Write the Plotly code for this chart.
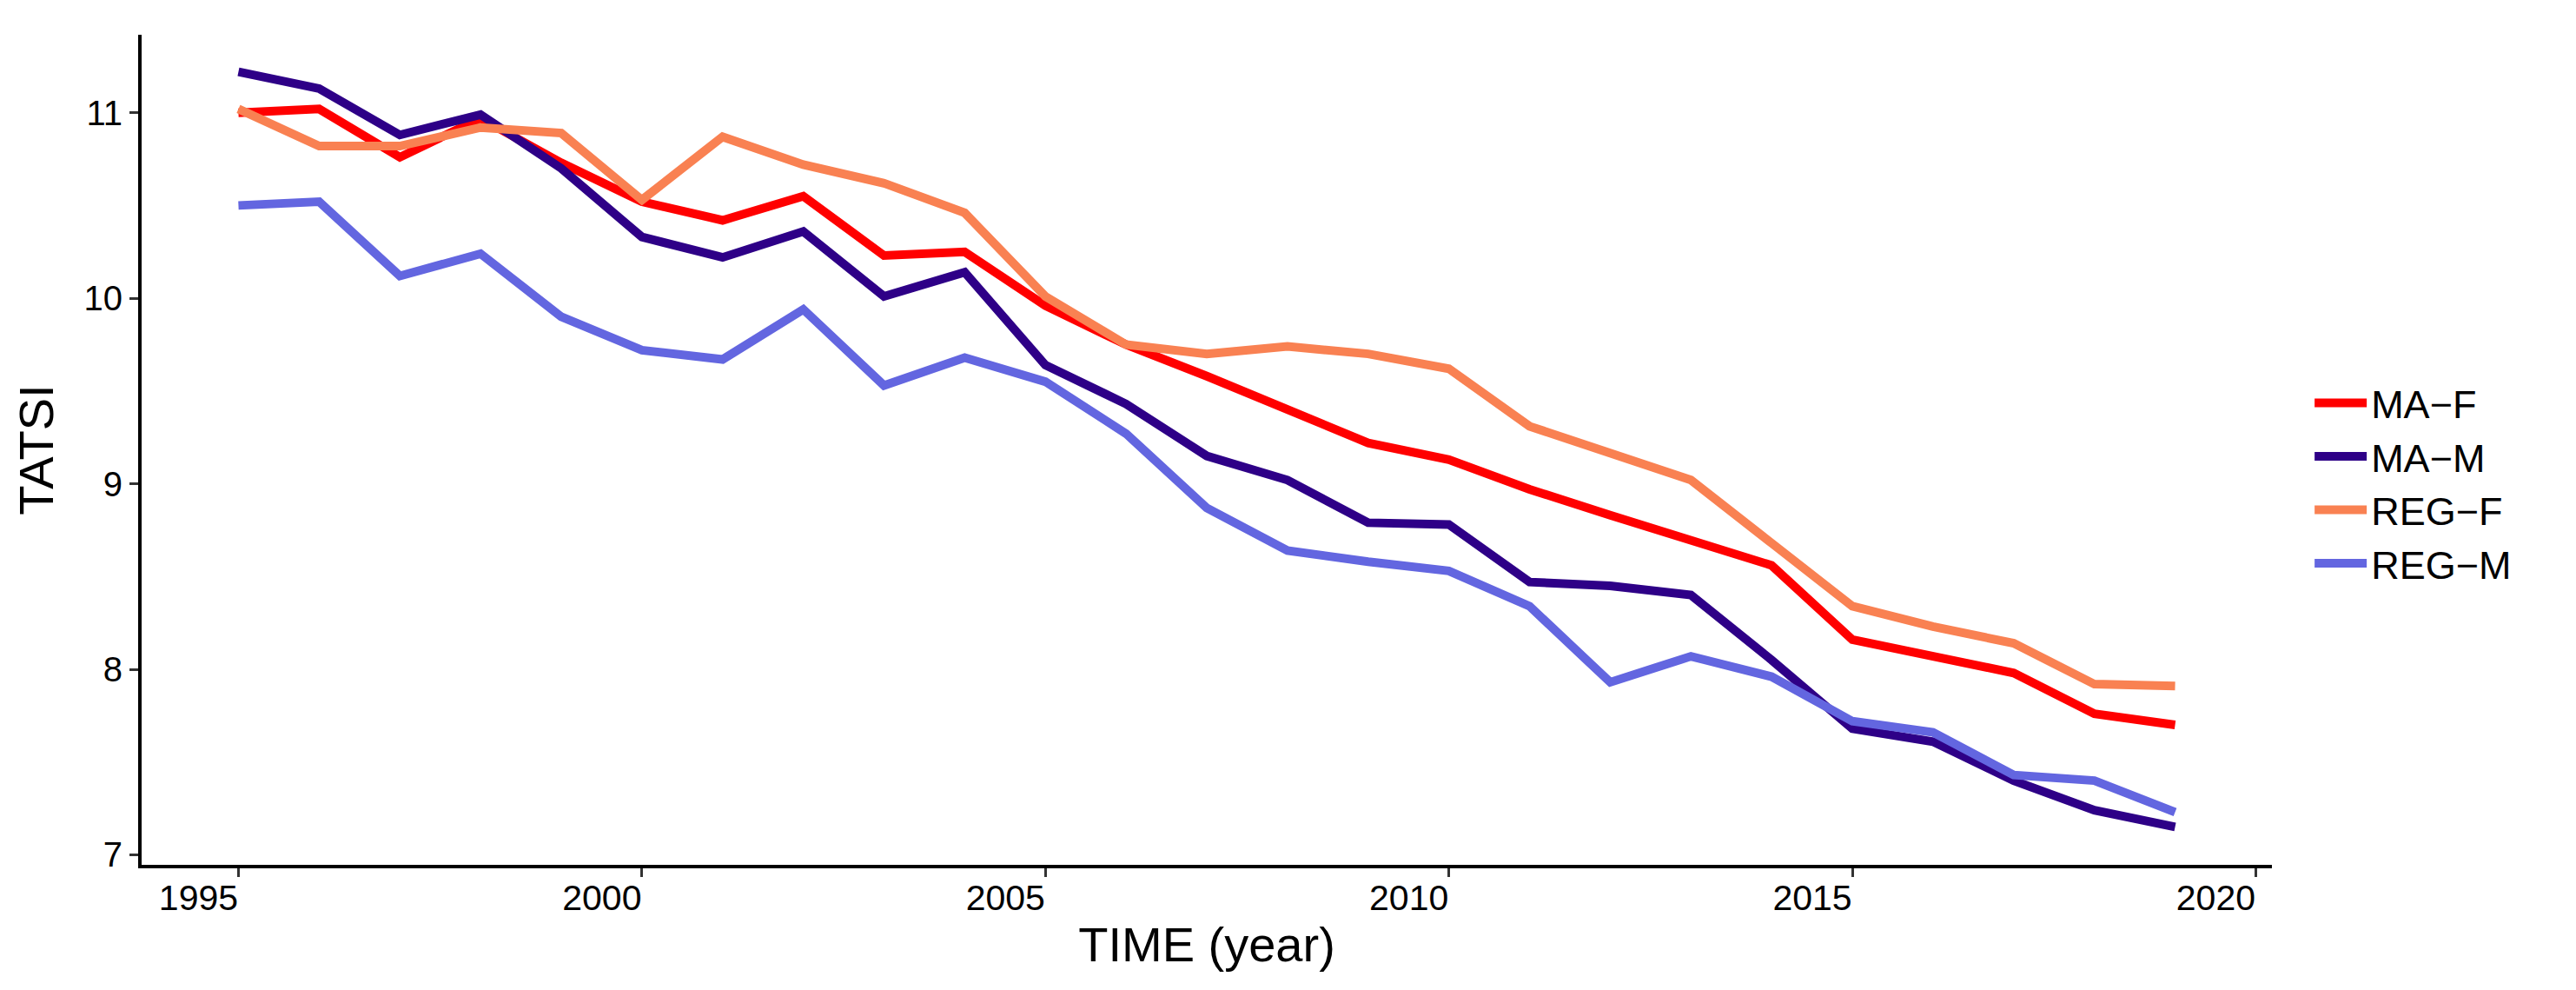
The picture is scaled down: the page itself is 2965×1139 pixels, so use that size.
import plotly.graph_objects as go

years = list(range(1995, 2020))

ma_f = [11.00, 11.02, 10.76, 10.97, 10.73, 10.52, 10.42, 10.55, 10.23, 10.25,
        9.96, 9.75, 9.58, 9.40, 9.22, 9.13, 8.97, 8.83, 8.69, 8.56,
        8.16, 8.07, 7.98, 7.76, 7.70]
ma_m = [11.22, 11.13, 10.88, 10.99, 10.70, 10.33, 10.22, 10.36, 10.01, 10.14,
        9.64, 9.43, 9.15, 9.02, 8.79, 8.78, 8.47, 8.45, 8.40, 8.05,
        7.68, 7.61, 7.40, 7.24, 7.15]
reg_f = [11.02, 10.82, 10.82, 10.92, 10.89, 10.53, 10.87, 10.72, 10.62, 10.46,
         10.01, 9.75, 9.70, 9.74, 9.70, 9.62, 9.31, 9.16, 9.02, 8.68,
         8.34, 8.23, 8.14, 7.92, 7.91]
reg_m = [10.50, 10.52, 10.12, 10.24, 9.90, 9.72, 9.67, 9.94, 9.53, 9.68,
         9.55, 9.27, 8.87, 8.64, 8.58, 8.53, 8.34, 7.93, 8.07, 7.96,
         7.72, 7.66, 7.43, 7.40, 7.23]

series_names = ["MA\u2212F", "MA\u2212M", "REG\u2212F", "REG\u2212M"]
series_values = [ma_f, ma_m, reg_f, reg_m]
colors = ["#FF0000", "#2E0087", "#F98152", "#6366E0"]

x_ticks = [1995, 2000, 2005, 2010, 2015, 2020]
y_ticks = [7, 8, 9, 10, 11]

fig = go.Figure()
for name, vals, col in zip(series_names, series_values, colors):
    fig.add_trace(go.Scatter(x=years, y=vals, mode="lines", name=name,
                             line=dict(color=col, width=10)))

font_family = "Liberation Sans, Arial, sans-serif"
fig.update_layout(
    width=2965, height=1139,
    margin=dict(l=155, r=358, t=32, b=152),
    plot_bgcolor="white", paper_bgcolor="white",
    font=dict(family=font_family, color="black"),
    showlegend=True,
    legend=dict(x=1.018, y=0.46, xanchor="left", yanchor="middle",
                font=dict(size=45, family=font_family, color="black"),
                bgcolor="rgba(0,0,0,0)", itemwidth=60, tracegroupgap=0),
    xaxis=dict(range=[1993.8, 2020.2], tickvals=x_ticks,
               ticktext=[str(v) for v in x_ticks],
               showgrid=False, zeroline=False, showline=True,
               linecolor="black", linewidth=4,
               ticks="outside", ticklen=10, tickwidth=3, tickcolor="#333333",
               tickfont=dict(size=41, color="black"),
               ticklabelshift=-46, ticklabelstandoff=-11,
               title=dict(text="TIME (year)", font=dict(size=56, color="black"),
                          standoff=13)),
    yaxis=dict(range=[6.946, 11.42], tickvals=y_ticks,
               showgrid=False, zeroline=False, showline=True,
               linecolor="black", linewidth=4,
               ticks="outside", ticklen=10, tickwidth=3, tickcolor="#333333",
               tickfont=dict(size=40, color="black"),
               title=dict(text="TATSI", font=dict(size=56, color="black"),
                          standoff=18)),
)

fig.write_html("out.html")
